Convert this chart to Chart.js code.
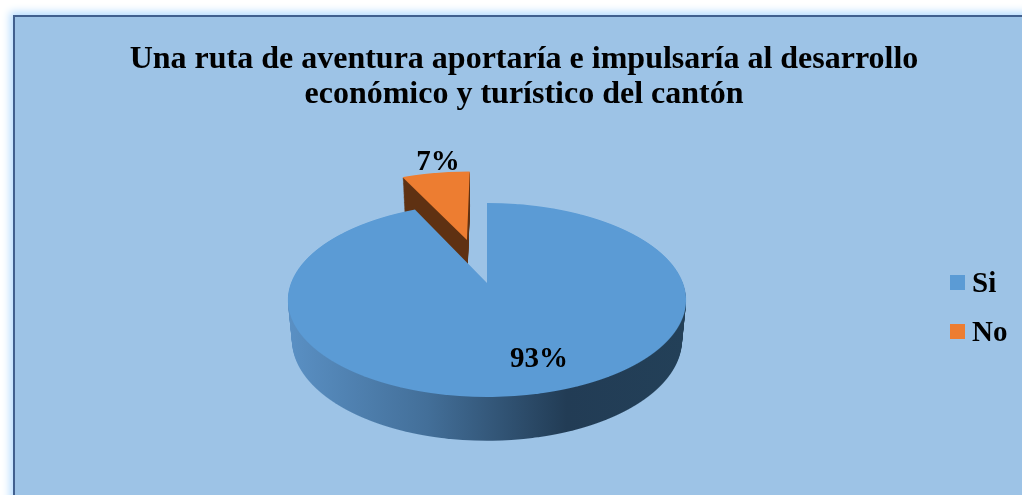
<!DOCTYPE html>
<html>
<head>
<meta charset="utf-8">
<title>Ruta de aventura</title>
<style>
  html, body { margin: 0; height: 100%; overflow: hidden; background: #fff; }
  #frame {
    position: absolute; left: 13px; top: 15px; width: 1030px; height: 500px;
    box-sizing: border-box; background: #9dc3e6; border: 2px solid #41608f;
    box-shadow: 0 0 8px 3px #b5dcff;
  }
  canvas { position: absolute; left: 0; top: 0; }
</style>
<script src="https://cdn.jsdelivr.net/npm/chart.js@4"></script>
</head>
<body>
<div id="frame"></div>
<canvas id="pieChart" width="1022" height="495"></canvas>
<script>
// Chart data
const titleLines = ["Una ruta de aventura aportaría e impulsaría al desarrollo", "económico y turístico del cantón"]
const categories = ["Si", "No"]
const percentages = [93, 7]
const sliceColors = ["#5b9bd5", "#ed7d31"]

// How far each slice is pulled out, in pie radii
const explode = [0, 0.51]

// Projection of the flat pie on the page: top face and bottom face of the 3D disc
const perspective = 0.175
const pieCenterX = 487
const topFace = { cy: 283, a: 196, b: 94 }
const bottomFace = { cy: 322, a: 192, b: 98 }

const FONT = '"Liberation Serif", "Times New Roman", serif'

// Draw one arc through the projection, one pixel row at a time
function drawProjected(ctx, arc, face, pull) {
  const mid = (arc.startAngle + arc.endAngle) / 2
  const pullU = pull * Math.cos(mid)
  const pullV = -pull * Math.sin(mid)
  const R = arc.outerRadius

  for (let row = 150; row < 450; row++) {
    const t = (face.cy - (row + 0.5)) / face.b
    const w = 1 / (1 - perspective * t)
    const v = t * w
    if (v < pullV - 1.02 || v > pullV + 1.02) continue

    const scaleX = face.a / (R * w)
    const scaleY = face.b / (R * w * w)
    ctx.save()
    ctx.beginPath()
    ctx.rect(0, row, ctx.canvas.width, 1)
    ctx.clip()
    ctx.setTransform(
      scaleX, 0, 0, scaleY,
      pieCenterX + scaleX * (pullU * R - arc.x),
      row + 0.5 - scaleY * (arc.y - v * R + pullV * R)
    )
    arc.draw(ctx)
    ctx.restore()
  }
}

// Side wall: stack of the arc from the bottom face up to the top face
function drawWall(ctx, arc, pull, fill) {
  const layerCanvas = document.createElement("canvas")
  layerCanvas.width = ctx.canvas.width
  layerCanvas.height = ctx.canvas.height
  const layer = layerCanvas.getContext("2d")

  const steps = 40
  for (let i = steps; i > 0; i--) {
    const s = i / steps
    drawProjected(layer, arc, {
      cy: topFace.cy + (bottomFace.cy - topFace.cy) * s,
      a: topFace.a + (bottomFace.a - topFace.a) * s,
      b: topFace.b + (bottomFace.b - topFace.b) * s,
    }, pull)
  }

  layer.globalCompositeOperation = "source-in"
  layer.fillStyle = fill
  layer.fillRect(0, 0, layerCanvas.width, layerCanvas.height)
  ctx.drawImage(layerCanvas, 0, 0)
}

function wallFill(ctx, index) {
  if (index === 1) return "#5f3112"
  const gradient = ctx.createLinearGradient(288, 0, 686, 0)
  gradient.addColorStop(0, "#5a90c4")
  gradient.addColorStop(0.35, "#436f99")
  gradient.addColorStop(0.7, "#223c55")
  gradient.addColorStop(1, "#234058")
  return gradient
}

const pie3dPlugin = {
  id: "pie3d",
  beforeDatasetsDraw(chart) {
    const ctx = chart.ctx
    const arcs = chart.getDatasetMeta(0).data
    // Pulled out slice goes first, the big slice covers it
    for (let i = arcs.length - 1; i >= 0; i--) {
      drawWall(ctx, arcs[i], explode[i], wallFill(ctx, i))
      drawProjected(ctx, arcs[i], topFace, explode[i])
    }
    return false
  },
  afterDraw(chart) {
    const ctx = chart.ctx
    ctx.save()
    ctx.fillStyle = "#000"
    ctx.font = "bold 29px " + FONT
    ctx.textBaseline = "middle"

    // Value labels
    const labelX = [539, 438]
    const labelY = [360, 163]
    ctx.textAlign = "center"
    percentages.forEach((value, i) => {
      ctx.fillText(value + "%", labelX[i], labelY[i])
    })

    // Legend
    const legendY = [285, 334]
    ctx.textAlign = "left"
    categories.forEach((name, i) => {
      ctx.fillStyle = sliceColors[i]
      ctx.fillRect(950, legendY[i] - 10, 15, 15)
      ctx.fillStyle = "#000"
      ctx.fillText(name, 972, legendY[i])
    })
    ctx.restore()
  },
}

new Chart(document.getElementById("pieChart"), {
  type: "pie",
  data: {
    labels: categories,
    datasets: [
      {
        data: percentages,
        backgroundColor: sliceColors,
        borderWidth: 0,
        radius: 100,
      },
    ],
  },
  options: {
    responsive: false,
    animation: false,
    layout: { padding: { left: 26, top: 27 } },
    plugins: {
      legend: { display: false },
      tooltip: { enabled: false },
      title: {
        display: true,
        text: titleLines,
        color: "#000",
        font: { family: FONT, size: 32, weight: "bold", lineHeight: 1.07 },
        padding: { top: 16, bottom: 10 },
      },
    },
  },
  plugins: [pie3dPlugin],
})
</script>
</body>
</html>
